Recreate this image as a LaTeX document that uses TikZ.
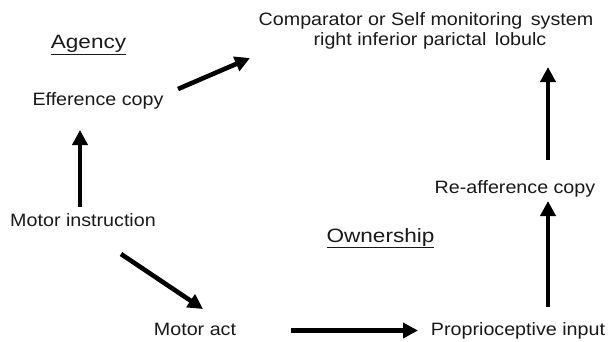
\documentclass[tikz,border=0pt]{standalone}
\usepackage{fontspec}
\setmainfont{Liberation Sans}[FakeStretch=1.1]
\newfontfamily\headfont{Liberation Sans}[FakeStretch=1.17]
\usetikzlibrary{arrows.meta}
\begin{document}
\begin{tikzpicture}[x=1pt,y=-1pt,
  lbl/.style={anchor=base,inner sep=0pt,font=\fontsize{17.9pt}{21pt}\selectfont,text=black!90},
  head/.style={lbl,font=\headfont\fontsize{19.3pt}{22pt}\selectfont},
  arr/.style={line width=4.6pt,-{Triangle[length=15pt,width=15pt]}}]
\useasboundingbox (0,0) rectangle (615,341);
% text nodes
\node[lbl] (comp1) at (426,25) {Comparator or Self monitoring\, system};
\node[lbl] (comp2) at (430,45) {right inferior parictal\, lobulc};
\node[head] (agency) at (88.5,48.3) {\underline{Agency}};
\node[lbl] (eff) at (98,105) {Efference copy};
\node[lbl] (instr) at (83,226.7) {Motor instruction};
\node[lbl] (act) at (195,335.5) {Motor act};
\node[lbl] (prop) at (518,335.5) {Proprioceptive input};
\node[lbl] (reaff) at (515,193) {Re-afference copy};
\node[head] (own) at (380.5,242) {\underline{Ownership}};
% connector ends
\coordinate (e1) at (178,89);   \coordinate (e2) at (250,58);
\coordinate (i1) at (80,207);   \coordinate (i2) at (80,130);
\coordinate (m1) at (121,254);  \coordinate (m2) at (203,309);
\coordinate (a1) at (291,330.5);\coordinate (a2) at (418,330.5);
\coordinate (p1) at (548,307);  \coordinate (p2) at (548,201);
\coordinate (r1) at (548,160);  \coordinate (r2) at (548,67);
% connectors
\draw[arr] (e1) -- (e2);
\draw[arr] (i1) -- (i2);
\draw[arr] (m1) -- (m2);
\draw[arr] (a1) -- (a2);
\draw[arr] (p1) -- (p2);
\draw[arr] (r1) -- (r2);
\end{tikzpicture}
\end{document}
